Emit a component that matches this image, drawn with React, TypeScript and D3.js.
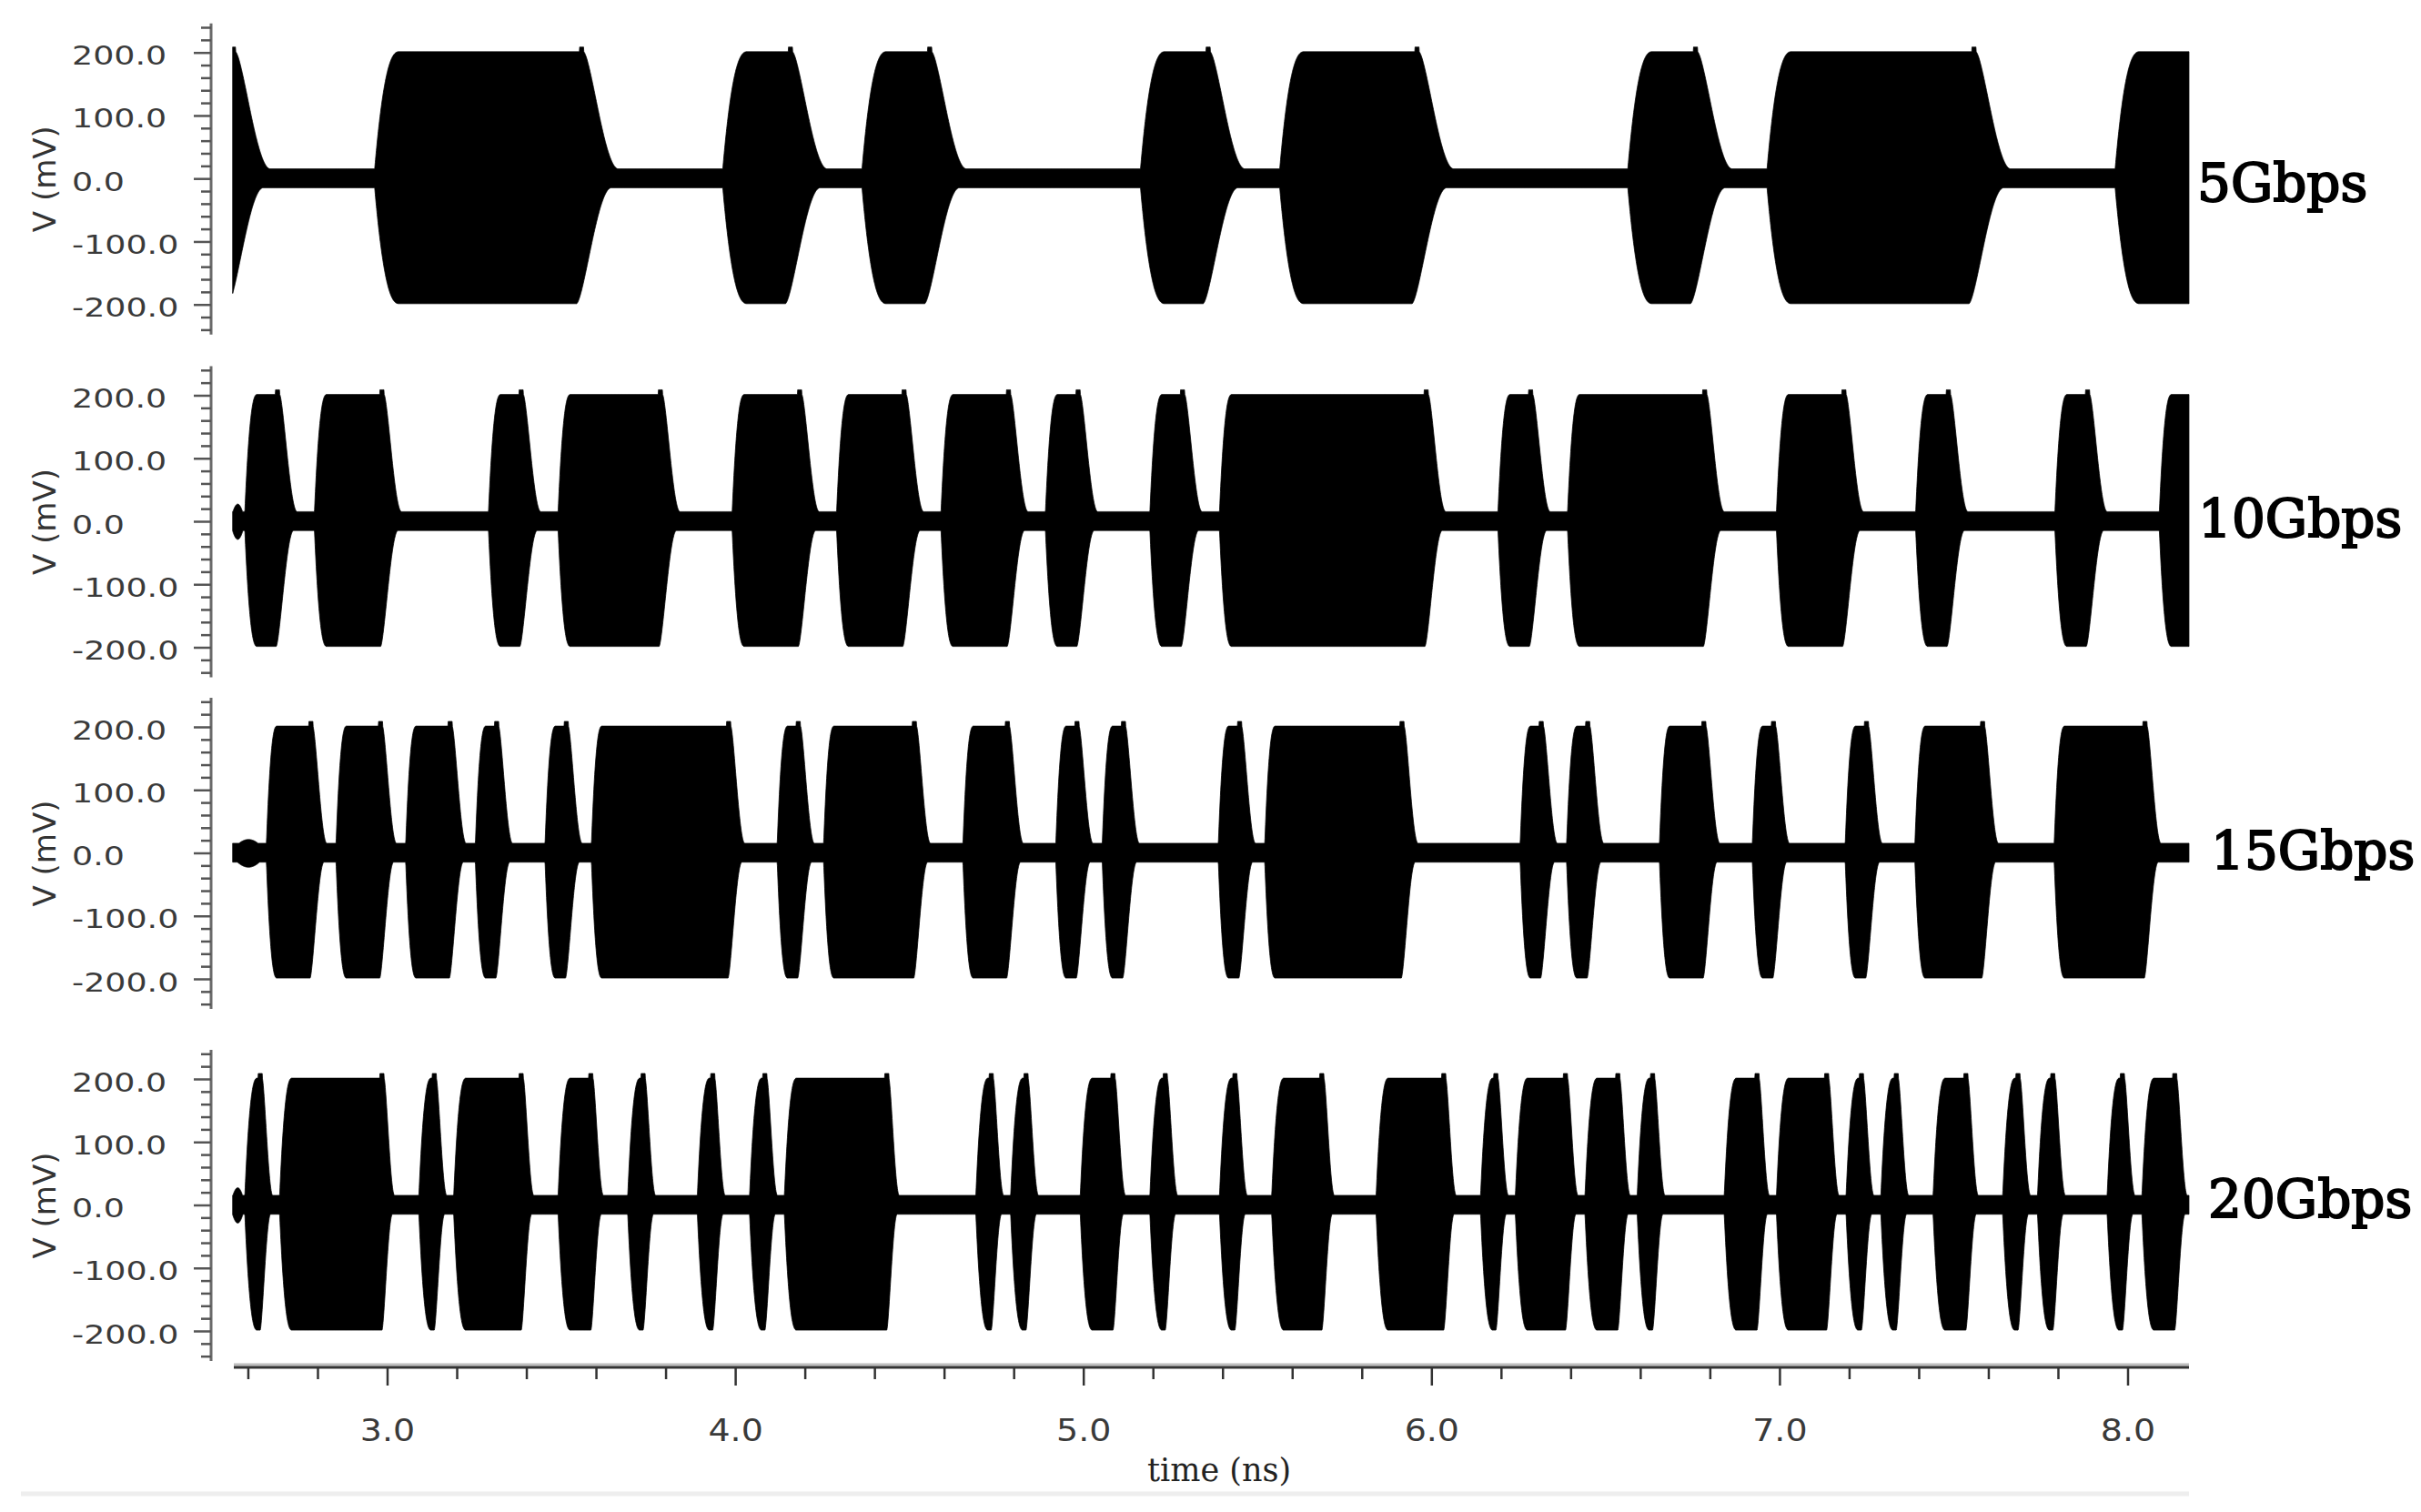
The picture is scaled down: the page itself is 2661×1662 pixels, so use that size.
import React from 'react';
import * as d3 from 'd3';

// ---------------- data ----------------
const RATE_LABELS = ['5Gbps', '10Gbps', '15Gbps', '20Gbps'];
// time of the first bit boundary (ns) and bit period (ns) per panel
const BIT_START_NS = [2.363, 2.59, 2.652, 2.59];
const BIT_PERIOD_NS = [0.2, 0.1, 0.0667, 0.05];
// transmitted bit patterns (1 = carrier burst) read from the envelopes
const BITS_5G = ['1', '0011100101', '0001011000', '101110011'].join('');
const BITS_10G = ['1011000101', '1100110110', '1101001011', '1111001011', '1100110010', '001001'].join('');
const BITS_15G = ['1101101101', '0010111111', '0010111100', '1100101000', '0101111110', '0000101000', '1100100010', '0111000111', '100'].join('');
const BITS_20G = ['1011111100', '1011110011', '0010001001', '0111111000', '0010100011', '0010001001', '1100011110', '0101110110', '1000011011', '1010100110', '0101000101', '10'].join('');
const BITS = [BITS_5G, BITS_10G, BITS_15G, BITS_20G];
// envelope rise / fall durations (ns)
const RISE_NS = [0.07, 0.035, 0.03, 0.035];
const FALL_NS = [0.1, 0.05, 0.04, 0.03];
// small start-up blob amplitude (mV) before the first bit
const LEAD_IN_MV = [0, 28, 22, 28];
const PEAK_HIGH_MV = 202;
const PEAK_LOW_MV = -198;
const IDLE_HIGH_MV = 16;
const IDLE_LOW_MV = -14;
const T_START = 2.555;
const T_END = 8.175;

const Y_TICKS = [200, 100, 0, -100, -200];
const Y_TICK_LABELS = ['200.0', '100.0', '0.0', '-100.0', '-200.0'];
const X_TICKS = [3, 4, 5, 6, 7, 8];
const X_TICK_LABELS = ['3.0', '4.0', '5.0', '6.0', '7.0', '8.0'];

// ---------------- layout ----------------
const W = 2661;
const H = 1662;
const PANEL_ZERO = [196.7, 573.5, 938, 1325];
const HALF_200 = 138.5; // px for 200 mV
const AXIS_X = 232;
const X_AXIS_Y = 1503;

const xScale = d3.scaleLinear().domain([3, 8]).range([426, 2339]);

function makeBursts(bits: string, t0: number, T: number) {
  const out: [number, number][] = [];
  let i = 0;
  while (i < bits.length) {
    if (bits[i] === '1') {
      let j = i;
      while (j < bits.length && bits[j] === '1') j++;
      out.push([t0 + i * T, t0 + j * T]);
      i = j;
    } else i++;
  }
  return out;
}

const smooth = (u: number) => u * u * (3 - 2 * u);
const riseShape = (u: number) => 1 - Math.pow(1 - u, 2.4);

function envAt(t: number, bs: [number, number][], r: number, f: number, shift: number, horn: boolean) {
  let v = 0;
  for (const [s, e0] of bs) {
    const e = e0 - shift;
    if (t < s) continue;
    let a: number;
    if (t <= e) {
      const u = Math.min(1, (t - s) / r);
      a = riseShape(u);
      if (horn && u >= 1 && e - t < 0.012) a = 1.04;
    } else {
      const ue = Math.min(1, (e - s) / r);
      const pk = riseShape(ue);
      const u = (t - e) / f;
      if (u >= 1) continue;
      a = pk * (1 - smooth(Math.pow(u, 0.8)));
    }
    if (a > v) v = a;
  }
  return v;
}

type Pt = { t: number; hi: number; lo: number };

function buildPanel(p: number): Pt[] {
  const bs = makeBursts(BITS[p], BIT_START_NS[p], BIT_PERIOD_NS[p]);
  const r = RISE_NS[p];
  const f = FALL_NS[p];
  const pts: Pt[] = [];
  const b0 = BIT_START_NS[p];
  for (let t = T_START; t <= T_END + 1e-9; t += 0.0008) {
    const aU = envAt(t, bs, r, f, 0, true);
    const aL = envAt(t, bs, r, f, 0.2 * f, false);
    let hi = IDLE_HIGH_MV + (PEAK_HIGH_MV - IDLE_HIGH_MV) * aU;
    let lo = IDLE_LOW_MV + (PEAK_LOW_MV - IDLE_LOW_MV) * aL;
    if (LEAD_IN_MV[p] > 0 && t < b0) {
      const u = Math.max(0, Math.min(1, (t - T_START + 0.006) / (b0 - T_START + 0.006)));
      const amp = LEAD_IN_MV[p] * Math.pow(Math.sin(Math.PI * u), 0.8);
      hi = Math.max(hi, amp);
      lo = Math.min(lo, -amp);
    }
    pts.push({ t, hi, lo });
  }
  return pts;
}

const LABEL_POS = [
  { x: 2415, y: 221 },
  { x: 2416, y: 590 },
  { x: 2430, y: 955 },
  { x: 2427, y: 1338 },
];

export default function App() {
  const panels = [0, 1, 2, 3].map((p) => {
    const zero = PANEL_ZERO[p];
    const y = d3.scaleLinear().domain([-200, 200]).range([zero + HALF_200, zero - HALF_200]);
    const data = buildPanel(p);
    const area = d3
      .area<Pt>()
      .x((d) => xScale(d.t))
      .y0((d) => y(d.lo))
      .y1((d) => y(d.hi));
    const minor = d3.range(-240, 241, 20);
    return (
      <g key={p}>
        <path d={area(data) || ''} fill="#000" stroke="#000" strokeWidth={0.8} />
        {/* y axis */}
        <line x1={AXIS_X} x2={AXIS_X} y1={y(247)} y2={y(-247)} stroke="#6a6a6a" strokeWidth={3} />
        {minor.map((m) => (
          <line
            key={m}
            x1={m % 100 === 0 ? AXIS_X - 19 : AXIS_X - 11}
            x2={AXIS_X}
            y1={y(m)}
            y2={y(m)}
            stroke="#555"
            strokeWidth={2.5}
          />
        ))}
        {Y_TICKS.map((v, i) => (
          <text
            key={v}
            transform={`translate(79, ${y(v) + 13}) scale(1.3, 1)`}
            fontFamily="DejaVu Sans, Verdana, sans-serif"
            fontSize={28}
            fill="#3a3a3a"
          >
            {Y_TICK_LABELS[i]}
          </text>
        ))}
        <text
          transform={`translate(49, ${zero}) rotate(-90)`}
          textAnchor="middle"
          dominantBaseline="central"
          fontFamily="DejaVu Sans, Verdana, sans-serif"
          fontSize={34}
          fill="#333"
        >
          V (mV)
        </text>
        <text
          x={LABEL_POS[p].x}
          y={LABEL_POS[p].y}
          fontFamily="DejaVu Serif, serif"
          fontSize={58}
          fill="#000"
          stroke="#000"
          strokeWidth={2}
        >
          {RATE_LABELS[p]}
        </text>
      </g>
    );
  });

  const xMinor = d3.range(26, 82, 2).map((v) => v / 10);

  return (
    <svg
      width={W}
      height={H}
      style={{ position: 'absolute', left: 0, top: 0, display: 'block' }}
      xmlns="http://www.w3.org/2000/svg"
    >
      <rect x={0} y={0} width={W} height={H} fill="#fff" />
      {panels}
      {/* x axis */}
      <line x1={257} x2={2406} y1={X_AXIS_Y - 3} y2={X_AXIS_Y - 3} stroke="#bdbdbd" strokeWidth={3} />
      <line x1={257} x2={2406} y1={X_AXIS_Y} y2={X_AXIS_Y} stroke="#333" strokeWidth={3} />
      {xMinor.map((v) => {
        const major = Math.abs(v - Math.round(v)) < 1e-6;
        return (
          <line
            key={v}
            x1={xScale(v)}
            x2={xScale(v)}
            y1={X_AXIS_Y}
            y2={X_AXIS_Y + (major ? 20 : 13)}
            stroke="#333"
            strokeWidth={2.5}
          />
        );
      })}
      {X_TICKS.map((v, i) => (
        <text
          key={v}
          transform={`translate(${xScale(v)}, 1584) scale(1.15, 1)`}
          textAnchor="middle"
          fontFamily="DejaVu Sans, Verdana, sans-serif"
          fontSize={33}
          fill="#3a3a3a"
        >
          {X_TICK_LABELS[i]}
        </text>
      ))}
      <text
        x={1340}
        y={1628}
        textAnchor="middle"
        fontFamily="DejaVu Serif, serif"
        fontSize={35}
        fill="#222"
      >
        time (ns)
      </text>
      <line x1={23} x2={2406} y1={1642} y2={1642} stroke="#eeeeee" strokeWidth={5} />
    </svg>
  );
}
